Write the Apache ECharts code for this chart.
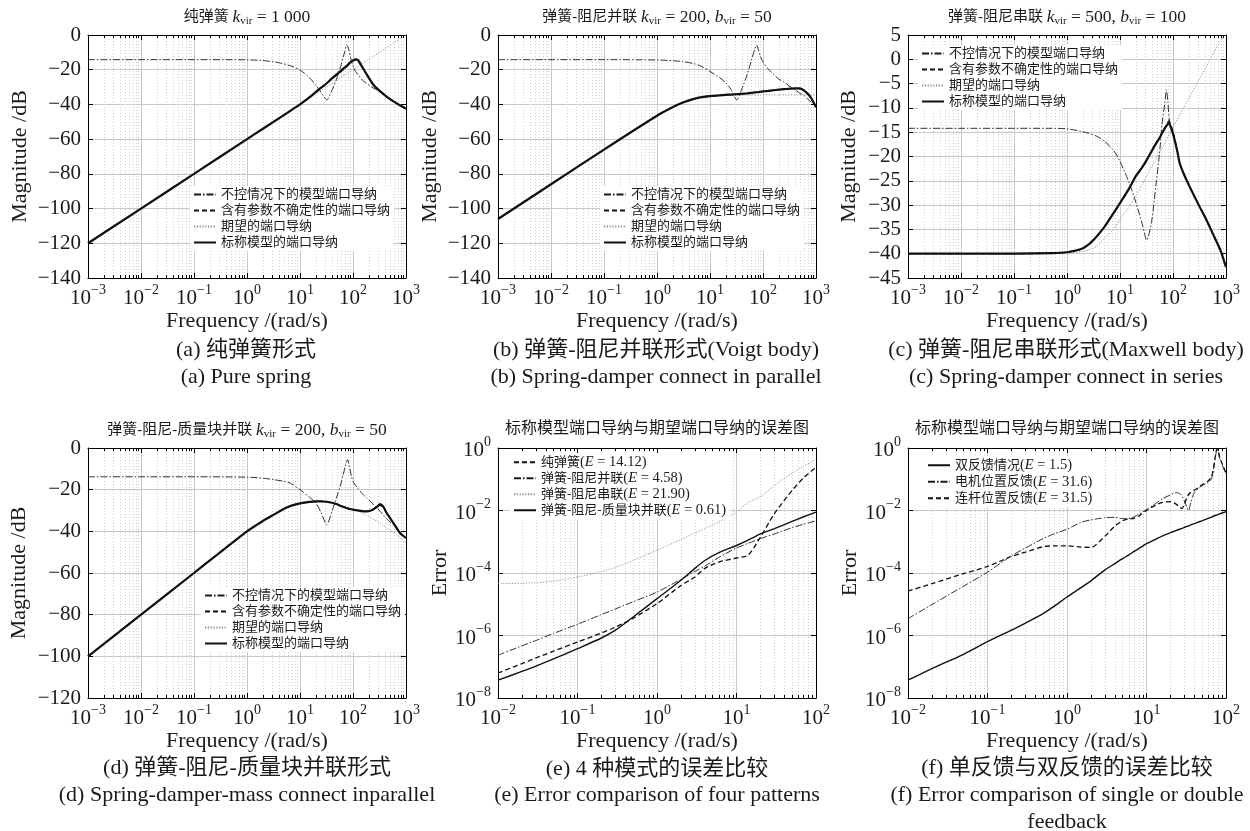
<!DOCTYPE html>
<html><head><meta charset="utf-8">
<script src="https://cdn.jsdelivr.net/npm/echarts@6/dist/echarts.min.js"></script>
<style>html,body{margin:0;padding:0;background:#fff}#c{width:1250px;height:831px}</style>
</head><body><div id="c"></div>
<script>
// ---------------- DATA ----------------
// (a) pure spring
const freqA = [0.001, 0.01, 0.1, 1, 2, 4, 7, 10, 15, 20, 25, 32, 40, 50, 60, 70, 76, 82, 90, 100, 112, 125, 150, 180, 240, 300, 430, 600, 800, 1000];
const aUncontrolled = [-14.2, -14.2, -14.2, -14.3, -14.7, -16, -18, -20.2, -24.5, -29, -33, -37.4, -32, -24.5, -17, -9.5, -5.8, -7.5, -13, -18.2, -21, -23, -26, -27.8, -30.5, -32, -35.5, -38.5, -40.8, -42.5];
const aUncertain = [-120, -100, -80, -60, -54, -48, -43.1, -40, -36, -32.9, -30.5, -28, -25.3, -22.9, -21, -19.2, -18.3, -17.3, -16.1, -15.0, -14.5, -15.2, -18.8, -22.7, -28.5, -31.5, -35.5, -38.5, -40.8, -42.5];
const aDesired = [-120, -100, -80, -60, -54, -48, -43.1, -40, -36.5, -34, -32, -29.9, -28, -26, -24.4, -23.1, -22.4, -21.7, -20.9, -20, -19, -18, -16.5, -14.9, -12.4, -10.5, -7.3, -4.4, -1.9, 0];
const aNominal = [-120, -100, -80, -60, -54, -48, -43.1, -40, -36, -32.8, -30.3, -27.8, -25, -22.5, -20.5, -18.7, -17.8, -16.8, -15.6, -14.6, -14.0, -14.6, -18.5, -22.5, -28.5, -31.5, -35.5, -38.5, -40.8, -42.5];
// (b) Voigt body
const freqB = [0.001, 0.01, 0.1, 1, 2, 3, 5, 7, 10, 15, 20, 25, 32, 40, 50, 60, 70, 76, 82, 90, 100, 125, 150, 200, 250, 300, 400, 500, 600, 700, 800, 1000];
const bUncontrolled = [-14.2, -14.2, -14.2, -14.4, -14.8, -15.3, -16.5, -18.2, -21, -24.5, -27.6, -31.5, -37.4, -31, -23, -15, -8, -5.8, -8.5, -12.5, -15.5, -19.5, -22, -25.5, -27, -29, -31.5, -33.6, -35, -37, -38.5, -41.3];
const bUncertain = [-106, -86, -66, -46.5, -41.5, -39, -36.8, -35.8, -35.2, -34.8, -34.5, -34.3, -34.1, -33.9, -33.6, -33.3, -33.1, -33, -32.9, -32.7, -32.5, -32.2, -31.9, -31.5, -31.2, -31, -30.9, -31.1, -32.3, -34.1, -36.3, -41.8];
const bDesired = [-106, -86, -66, -46.3, -41.5, -39.3, -37, -36, -35.3, -34.9, -34.7, -34.6, -34.5, -34.5, -34.5, -34.5, -34.5, -34.5, -34.5, -34.5, -34.5, -34.5, -34.5, -34.5, -34.5, -34.5, -34.5, -34.5, -34.5, -34.5, -34.5, -34.5];
const bNominal = [-106, -86, -66, -46.5, -41.5, -39, -36.8, -35.8, -35.2, -34.8, -34.5, -34.3, -34.1, -33.9, -33.6, -33.3, -33.1, -33, -32.9, -32.7, -32.5, -32.2, -31.9, -31.5, -31.2, -31, -30.7, -30.8, -32, -33.8, -36, -41.5];
// (c) Maxwell body
const freqC = [0.001, 0.01, 0.1, 0.5, 1, 1.8, 2.5, 3.6, 5, 7.5, 10, 15, 20, 26, 32, 40, 48, 55, 62, 70, 75, 80, 85, 90, 100, 120, 134, 160, 206, 300, 430, 600, 800, 1000];
const cUncontrolled = [-14.2, -14.2, -14.2, -14.2, -14.3, -14.8, -15.2, -15.8, -16.8, -18.7, -21, -25.5, -29.5, -33.7, -37.2, -33, -25.5, -20, -13.5, -9, -6.3, -8.8, -12.5, -14.3, -15.3, -18.8, -21.4, -23.6, -26.2, -29.8, -33.1, -36.5, -39.5, -42.8];
const cUncertain = [-40, -40, -40, -39.9, -39.7, -39.1, -38.2, -36.5, -34.6, -31.7, -29.6, -26.5, -24, -22.3, -20.7, -18.8, -17.3, -16.3, -15.2, -14.2, -13.4, -12.9, -12.7, -13.4, -15.0, -18.8, -21.4, -23.6, -26.2, -29.8, -33.1, -36.5, -39.5, -42.8];
const cDesired = [-40, -40, -40, -40, -39.9, -39.6, -39.3, -38.5, -37, -35, -33, -30.3, -28, -25.8, -24, -22, -20.5, -19.3, -18.3, -17.2, -16.6, -16, -15.5, -15, -14, -12.4, -11.5, -10, -7.8, -4.5, -1.4, 1.5, 4, 5];
const cNominal = [-40, -40, -40, -39.9, -39.7, -39.1, -38.2, -36.5, -34.6, -31.7, -29.6, -26.5, -24, -22.3, -20.7, -18.8, -17.3, -16.3, -15.2, -14.2, -13.7, -13.3, -13.2, -13.8, -15.3, -18.8, -21.4, -23.6, -26.2, -29.8, -33.1, -36.5, -39.5, -42.8];
// (d) spring-damper-mass
const freqD = [0.001, 0.01, 0.1, 1, 2, 3.2, 5, 6.5, 10, 15, 20, 25, 32, 40, 50, 57, 65, 72, 79, 87, 100, 125, 150, 181, 220, 250, 290, 324, 370, 432, 500, 577, 670, 770, 870, 1000];
const dUncontrolled = [-13.8, -13.8, -13.8, -14, -14.5, -15.2, -16, -16.8, -20, -23.5, -26.4, -31, -36.8, -30.5, -23, -18.5, -13, -8.5, -5.6, -10, -16, -19.5, -22, -24, -26, -27.5, -29, -30.4, -32, -34, -35.5, -36.8, -39, -40.8, -42, -43.2];
const dUncertain = [-100, -80, -60, -40, -35, -32, -29.2, -27.9, -26.6, -25.9, -25.6, -25.6, -25.8, -26.3, -27, -27.7, -28.2, -28.6, -29, -29.3, -29.6, -30, -30.3, -30.4, -30, -29.2, -28.3, -27.4, -28.6, -31.2, -33.6, -36, -38.5, -40.8, -42, -43.2];
const dDesired = [-100, -80, -60, -40, -35, -32, -29.2, -27.9, -26.6, -25.9, -25.6, -25.6, -25.8, -26.3, -27, -27.7, -28.2, -28.6, -29, -29.3, -29.6, -30.4, -31.2, -32.3, -33.4, -34.3, -35.3, -36.1, -37.2, -38.4, -39.5, -40.6, -41.8, -43, -44.1, -45.5];
const dNominal = [-100, -80, -60, -40, -35, -32, -29.2, -27.9, -26.6, -25.9, -25.6, -25.6, -25.8, -26.3, -27, -27.7, -28.2, -28.6, -29, -29.3, -29.6, -30, -30.3, -30.4, -30, -29.2, -28, -26.9, -28, -31.2, -33.6, -36, -38.5, -40.8, -42, -43.2];
// (e) error of four patterns
const freqE = [0.01, 0.02, 0.03, 0.05, 0.1, 0.2, 0.3, 0.5, 1, 2, 3, 4, 6, 10, 14, 20, 30, 50, 70, 100];
const eSpring = [6.31e-8, 1.26e-7, 1.91e-7, 3.16e-7, 6.17e-7, 1.20e-6, 1.86e-6, 3.55e-6, 1.05e-5, 3.98e-5, 7.41e-5, 1.41e-4, 2.24e-4, 3.02e-4, 3.72e-4, 1.41e-3, 7.94e-3, 4.37e-2, 0.112, 0.240];
const eVoigt = [2.34e-7, 4.68e-7, 6.92e-7, 1.17e-6, 2.29e-6, 4.68e-6, 7.08e-6, 1.20e-5, 2.45e-5, 6.31e-5, 1.12e-4, 1.66e-4, 3.16e-4, 6.31e-4, 8.91e-4, 1.26e-3, 1.78e-3, 2.82e-3, 3.63e-3, 4.68e-3];
const eMaxwell = [4.57e-5, 4.68e-5, 4.90e-5, 5.50e-5, 7.41e-5, 1.12e-4, 1.51e-4, 2.51e-4, 5.37e-4, 1.17e-3, 1.91e-3, 2.63e-3, 4.27e-3, 8.91e-3, 1.78e-2, 2.82e-2, 6.31e-2, 0.158, 0.263, 0.427];
const eMass = [3.72e-8, 7.08e-8, 1.05e-7, 1.78e-7, 3.80e-7, 8.32e-7, 1.48e-6, 3.89e-6, 1.51e-5, 5.89e-5, 1.41e-4, 2.51e-4, 4.47e-4, 7.59e-4, 1.12e-3, 1.78e-3, 2.63e-3, 4.47e-3, 6.31e-3, 8.91e-3];
// (f) single vs double feedback
const freqF = [0.01, 0.02, 0.05, 0.1, 0.2, 0.3, 0.5, 0.7, 1, 1.5, 2, 3, 4, 5, 6, 7, 8, 10, 13, 16, 20, 23, 26, 28, 30, 32, 34, 36, 40, 45, 50, 60, 66, 70, 73, 76, 78, 83, 90, 100];
const fDouble = [3.72e-8, 8.71e-8, 2.51e-7, 6.31e-7, 1.48e-6, 2.51e-6, 5.01e-6, 8.91e-6, 1.70e-5, 3.39e-5, 5.62e-5, 1.26e-4, 2.0e-4, 2.88e-4, 3.80e-4, 4.90e-4, 6.03e-4, 8.71e-4, 1.20e-3, 1.55e-3, 1.95e-3, 2.24e-3, 2.51e-3, 2.69e-3, 2.88e-3, 3.09e-3, 3.24e-3, 3.47e-3, 3.80e-3, 4.27e-3, 4.68e-3, 5.62e-3, 6.17e-3, 6.61e-3, 6.92e-3, 7.08e-3, 7.24e-3, 7.76e-3, 8.32e-3, 9.12e-3];
const fMotor = [3.47e-6, 9.77e-6, 3.80e-5, 1.07e-4, 3.55e-4, 6.31e-4, 1.26e-3, 1.82e-3, 2.51e-3, 4.17e-3, 5.01e-3, 5.89e-3, 6.03e-3, 5.50e-3, 5.62e-3, 6.31e-3, 7.59e-3, 1.07e-2, 1.66e-2, 2.40e-2, 3.16e-2, 3.72e-2, 3.55e-2, 2.82e-2, 2.0e-2, 1.32e-2, 1.0e-2, 1.78e-2, 3.80e-2, 5.01e-2, 6.31e-2, 7.94e-2, 0.107, 0.224, 0.447, 0.832, 0.933, 0.501, 0.282, 0.151];
const fLink = [2.63e-5, 4.57e-5, 9.55e-5, 1.62e-4, 3.39e-4, 4.68e-4, 6.92e-4, 7.41e-4, 7.41e-4, 6.76e-4, 6.61e-4, 1.51e-3, 3.16e-3, 4.68e-3, 5.37e-3, 5.62e-3, 6.61e-3, 1.0e-2, 1.48e-2, 1.82e-2, 1.91e-2, 1.66e-2, 1.32e-2, 1.15e-2, 1.58e-2, 2.51e-2, 3.31e-2, 3.80e-2, 4.47e-2, 5.37e-2, 6.61e-2, 8.91e-2, 0.126, 0.251, 0.501, 0.891, 0.955, 0.525, 0.302, 0.158];

// ticks
const magXTicks = [1e-3, 1e-2, 1e-1, 1, 10, 100, 1000];
const errXTicks = [1e-2, 1e-1, 1, 10, 100];
const errYTicks = [1e-8, 1e-6, 1e-4, 1e-2, 1];

// legend / text labels
const magNames = ['不控情况下的模型端口导纳', '含有参数不确定性的端口导纳', '期望的端口导纳', '标称模型的端口导纳'];
const eNames = ['纯弹簧', '弹簧-阻尼并联', '弹簧-阻尼串联', '弹簧-阻尼-质量块并联'];
const eLabels = ['纯弹簧{m|(}{i|E}{m| = 14.12)}', '弹簧-阻尼并联{m|(}{i|E}{m| = 4.58)}', '弹簧-阻尼串联{m|(}{i|E}{m| = 21.90)}', '弹簧-阻尼-质量块并联{m|(}{i|E}{m| = 0.61)}'];
const fNames = ['双反馈情况', '电机位置反馈', '连杆位置反馈'];
const fLabels = ['双反馈情况{m|(}{i|E}{m| = 1.5)}', '电机位置反馈{m|(}{i|E}{m| = 31.6)}', '连杆位置反馈{m|(}{i|E}{m| = 31.5)}'];
const panelTitles = [
  '纯弹簧 {i|k}{sub|vir}{m| = 1 000}',
  '弹簧-阻尼并联 {i|k}{sub|vir}{m| = 200, }{i|b}{sub|vir}{m| = 50}',
  '弹簧-阻尼串联 {i|k}{sub|vir}{m| = 500, }{i|b}{sub|vir}{m| = 100}',
  '弹簧-阻尼-质量块并联 {i|k}{sub|vir}{m| = 200, }{i|b}{sub|vir}{m| = 50}',
  '标称模型端口导纳与期望端口导纳的误差图',
  '标称模型端口导纳与期望端口导纳的误差图'
];
const captions = [
  ['(a) 纯弹簧形式', '(a) Pure spring'],
  ['(b) 弹簧-阻尼并联形式(Voigt body)', '(b) Spring-damper connect in parallel'],
  ['(c) 弹簧-阻尼串联形式(Maxwell body)', '(c) Spring-damper connect in series'],
  ['(d) 弹簧-阻尼-质量块并联形式', '(d) Spring-damper-mass connect inparallel'],
  ['(e) 4 种模式的误差比较', '(e) Error comparison of four patterns'],
  ['(f) 单反馈与双反馈的误差比较', '(f) Error comparison of single or double', 'feedback']
];

// ---------------- STYLE / LAYOUT ----------------
const FONT = "'Liberation Serif', 'Noto Sans CJK SC', serif";
const TXT = '#1a1a1a';
const GRIDC = '#c9c9c9';
const MINC = '#d0d0d0';

function sup(v) {
  const e = Math.round(Math.log10(v));
  return '{b|10}{s|' + (e < 0 ? '\u2212' + (-e) : e) + '}';
}
function minus(v) { return v < 0 ? '\u2212' + (-v) : String(v); }
const richSup = {
  b: { fontFamily: FONT, fontSize: 21, lineHeight: 26, verticalAlign: 'bottom', color: TXT },
  s: { fontFamily: FONT, fontSize: 14, verticalAlign: 'top', color: TXT }
};
function minors(lo, hi) {
  const out = [];
  for (let e = lo; e < hi; e++) for (let m = 2; m <= 9; m++) out.push(+(m * Math.pow(10, e)).toPrecision(3));
  return out;
}

const panels = [
  { left: 88, top: 35, width: 318, height: 243, xt: magXTicks, ymin: -140, ymax: 0, yint: 20, yname: 'Magnitude /dB', yGap: 57, xGap: 30 },
  { left: 498, top: 35, width: 318, height: 243, xt: magXTicks, ymin: -140, ymax: 0, yint: 20, yname: 'Magnitude /dB', yGap: 57, xGap: 30 },
  { left: 908, top: 35, width: 318, height: 243, xt: magXTicks, ymin: -45, ymax: 5, yint: 5, yname: 'Magnitude /dB', yGap: 48, xGap: 30 },
  { left: 88, top: 448, width: 318, height: 250, xt: magXTicks, ymin: -120, ymax: 0, yint: 20, yname: 'Magnitude /dB', yGap: 58, xGap: 29 },
  { left: 498, top: 448, width: 318, height: 250, xt: errXTicks, ylog: true, yname: 'Error', yGap: 44, xGap: 29 },
  { left: 908, top: 448, width: 318, height: 250, xt: errXTicks, ylog: true, yname: 'Error', yGap: 45, xGap: 29 }
];

const grids = [], xAxes = [], yAxes = [];
const noLine = { show: false, onZero: false };
const boxLine = { show: true, onZero: false, lineStyle: { color: '#000', width: 1 } };
panels.forEach((p, g) => {
  grids.push({ left: p.left, top: p.top, width: p.width, height: p.height });
  const xmin = p.xt[0], xmax = p.xt[p.xt.length - 1];
  const mins = minors(Math.round(Math.log10(xmin)), Math.round(Math.log10(xmax)));
  const xb = { gridIndex: g, type: 'log', logBase: 10, min: xmin, max: xmax };
  xAxes.push(
    { ...xb, position: 'bottom', name: 'Frequency /(rad/s)', nameLocation: 'middle', nameGap: p.xGap,
      nameTextStyle: { fontFamily: FONT, fontSize: 22, color: TXT },
      axisLine: boxLine,
      axisTick: { show: true, inside: true, length: 5, customValues: p.xt, lineStyle: { color: '#000' } },
      axisLabel: { show: true, customValues: p.xt, formatter: sup, rich: richSup, margin: 5, color: TXT },
      splitLine: { show: true, lineStyle: { color: GRIDC, width: 1 } } },
    { ...xb, position: 'bottom', axisLine: noLine,
      axisTick: { show: true, inside: true, length: 3, customValues: mins, lineStyle: { color: '#000' } },
      axisLabel: { show: false },
      splitLine: { show: true, lineStyle: { color: MINC, width: 1, type: [1, 2] } } },
    { ...xb, position: 'top', axisLine: boxLine,
      axisTick: { show: true, inside: true, length: 5, customValues: p.xt, lineStyle: { color: '#000' } },
      axisLabel: { show: false }, splitLine: { show: false } },
    { ...xb, position: 'top', axisLine: noLine,
      axisTick: { show: true, inside: true, length: 3, customValues: mins, lineStyle: { color: '#000' } },
      axisLabel: { show: false }, splitLine: { show: false } }
  );
  const yb = p.ylog ? { gridIndex: g, type: 'log', logBase: 10, min: 1e-8, max: 1 }
                    : { gridIndex: g, type: 'value', min: p.ymin, max: p.ymax, interval: p.yint };
  const tk = p.ylog ? { customValues: errYTicks } : {};
  const lab = p.ylog ? { customValues: errYTicks, formatter: sup, rich: richSup }
                     : { formatter: minus, fontFamily: FONT, fontSize: 21 };
  yAxes.push(
    { ...yb, position: 'left', name: p.yname, nameLocation: 'middle', nameRotate: 90, nameGap: p.yGap,
      nameTextStyle: { fontFamily: FONT, fontSize: 22, color: TXT },
      axisLine: boxLine,
      axisTick: { show: true, inside: true, length: 5, ...tk, lineStyle: { color: '#000' } },
      axisLabel: { show: true, margin: 7, color: TXT, ...lab },
      splitLine: { show: true, lineStyle: { color: GRIDC, width: 1 } } },
    { ...yb, position: 'right', axisLine: boxLine,
      axisTick: { show: true, inside: true, length: 5, ...tk, lineStyle: { color: '#000' } },
      axisLabel: { show: false }, splitLine: { show: false } }
  );
});

const ST = {
  dashdot: { color: '#1a1a1a', width: 0.9, type: [7, 2, 1.5, 2] },
  dashed: { color: '#111', width: 1.3, type: [5, 3] },
  dotted: { color: '#8a8a8a', width: 0.9, type: [1.2, 1.6] },
  solid: { color: '#111', width: 2.2, type: 'solid' },
  solidThin: { color: '#111', width: 1.4, type: 'solid' }
};
function line(name, g, xs, ys, style, z) {
  return { type: 'line', name, xAxisIndex: 4 * g, yAxisIndex: 2 * g, data: xs.map((x, i) => [x, ys[i]]),
    symbol: 'none', showSymbol: false, smooth: 0.25, lineStyle: style, itemStyle: { color: style.color },
    z: z || 2, silent: true };
}
const series = [];
[[freqA, aUncontrolled, aUncertain, aDesired, aNominal],
 [freqB, bUncontrolled, bUncertain, bDesired, bNominal],
 [freqC, cUncontrolled, cUncertain, cDesired, cNominal],
 [freqD, dUncontrolled, dUncertain, dDesired, dNominal]].forEach((d, g) => {
  series.push(line(magNames[2], g, d[0], d[3], ST.dotted, 2));
  series.push(line(magNames[0], g, d[0], d[1], ST.dashdot, 3));
  series.push(line(magNames[1], g, d[0], d[2], ST.dashed, 4));
  series.push(line(magNames[3], g, d[0], d[4], ST.solid, 5));
});
series.push(line(eNames[0], 4, freqE, eSpring, ST.dashed, 3));
series.push(line(eNames[1], 4, freqE, eVoigt, ST.dashdot, 3));
series.push(line(eNames[2], 4, freqE, eMaxwell, ST.dotted, 3));
series.push(line(eNames[3], 4, freqE, eMass, ST.solidThin, 4));
series.push(line(fNames[0], 5, freqF, fDouble, ST.solidThin, 4));
series.push(line(fNames[1], 5, freqF, fMotor, ST.dashdot, 3));
series.push(line(fNames[2], 5, freqF, fLink, ST.dashed, 3));

const legTxt = { fontFamily: FONT, fontSize: 13, color: TXT,
  rich: {
    i: { fontFamily: FONT, fontSize: 14.5, fontStyle: 'italic', color: TXT },
    m: { fontFamily: FONT, fontSize: 14.5, color: TXT }
  } };
function legend(names, left, top, gap, fmt) {
  return { data: names, left, top, orient: 'vertical', itemWidth: 22, itemHeight: 10, itemGap: gap,
    backgroundColor: '#fff', padding: [2, 4, 2, 3], selectedMode: false, textStyle: legTxt,
    itemStyle: { opacity: 0 }, formatter: fmt || (n => n) };
}
const legends = [
  legend(magNames, 190, 186, 3), legend(magNames, 600, 186, 3), legend(magNames, 918, 45, 3), legend(magNames, 201, 587, 3),
  legend(eNames, 510, 453, 1.5, n => eLabels[eNames.indexOf(n)]),
  legend(fNames, 924, 456, 2, n => fLabels[fNames.indexOf(n)])
];

const titleRich = {
  i: { fontFamily: FONT, fontSize: 17.5, fontStyle: 'italic', color: TXT },
  m: { fontFamily: FONT, fontSize: 17.5, color: TXT },
  sub: { fontFamily: FONT, fontSize: 11, verticalAlign: 'bottom', color: TXT }
};
const titles = [];
const tPos = [[247, 17], [657, 17], [1067, 17], [247, 430], [657, 429], [1067, 429]];
panelTitles.forEach((t, k) => {
  titles.push({ text: t, left: tPos[k][0], top: tPos[k][1], textAlign: 'center', textVerticalAlign: 'middle', padding: 0,
    textStyle: { fontFamily: FONT, fontSize: k >= 4 ? 16 : 15, fontWeight: 'normal', color: TXT, lineHeight: 19, rich: titleRich } });
});
const cPos = [[246, 350, 377], [656, 350, 377], [1066, 350, 377], [247, 768, 795], [657, 769, 795], [1067, 768, 795, 822]];
captions.forEach((lines, k) => {
  lines.forEach((t, j) => {
    titles.push({ text: t, left: cPos[k][0], top: cPos[k][1 + j], textAlign: 'center', textVerticalAlign: 'middle', padding: 0,
      textStyle: { fontFamily: FONT, fontSize: 22, fontWeight: 'normal', color: TXT } });
  });
});

const chart = echarts.init(document.getElementById('c'), null, { renderer: 'canvas' });
chart.setOption({
  animation: false,
  backgroundColor: '#fff',
  textStyle: { fontFamily: FONT, color: TXT },
  title: titles,
  legend: legends,
  grid: grids,
  xAxis: xAxes,
  yAxis: yAxes,
  series
});
</script></body></html>
